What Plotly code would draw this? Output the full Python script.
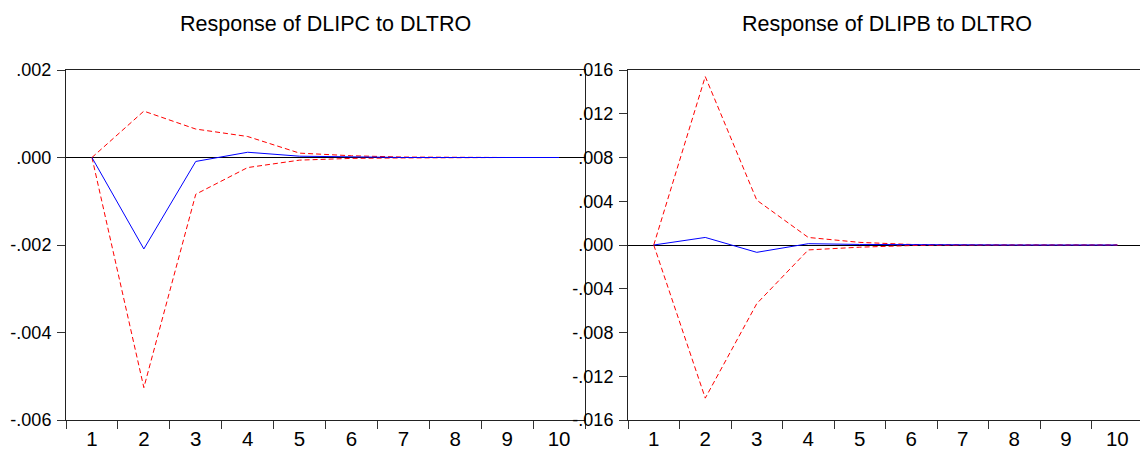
import plotly.graph_objects as go

periods = ["1", "2", "3", "4", "5", "6", "7", "8", "9", "10"]

dlipc_resp = [0.0, -0.00209, -0.00009, 0.00012, 0.00003, 0.00001, 0.0, 0.0, 0.0, 0.0]
dlipc_upper = [0.0, 0.00106, 0.00065, 0.00048, 0.00010, 0.00004, 0.00001, 0.0, 0.0, 0.0]
dlipc_lower = [0.0, -0.00526, -0.00084, -0.00023, -0.00006, -0.00002, -0.00001, 0.0, 0.0, 0.0]

dlipb_resp = [0.0, 0.00069, -0.00067, 0.00012, 0.00005, 0.00002, 0.0, 0.0, 0.0, 0.0]
dlipb_upper = [0.0, 0.0154, 0.0041, 0.00069, 0.00024, 0.00005, 0.00001, 0.0, 0.0, 0.0]
dlipb_lower = [0.0, -0.0140, -0.00536, -0.00045, -0.00020, -0.00005, -0.00001, 0.0, 0.0, 0.0]

left_ticks = [-0.006, -0.004, -0.002, 0.0, 0.002]
left_ticktext = ["-.006", "-.004", "-.002", ".000", ".002"]
right_ticks = [-0.016, -0.012, -0.008, -0.004, 0.0, 0.004, 0.008, 0.012, 0.016]
right_ticktext = ["-.016", "-.012", "-.008", "-.004", ".000", ".004", ".008", ".012", ".016"]

titles = ["Response of DLIPC to DLTRO", "Response of DLIPB to DLTRO"]

W, H = 1140, 450
FONT = "Liberation Sans, Arial, sans-serif"

fig = go.Figure()

def add_panel(resp, upper, lower, xa, ya):
    for vals in (upper, lower):
        fig.add_trace(go.Scatter(x=periods, y=vals, mode="lines", xaxis=xa, yaxis=ya,
                                 line=dict(color="#FF0000", width=1, dash="5px,3px"),
                                 showlegend=False, hoverinfo="skip"))
    fig.add_trace(go.Scatter(x=periods, y=resp, mode="lines", xaxis=xa, yaxis=ya,
                             line=dict(color="#0000FF", width=1),
                             showlegend=False, hoverinfo="skip"))

add_panel(dlipc_resp, dlipc_upper, dlipc_lower, "x", "y")
add_panel(dlipb_resp, dlipb_upper, dlipb_lower, "x2", "y2")

ydom = [1 - 420 / H, 1 - 70 / H]
xdom1 = [66 / W, 585 / W]
xdom2 = [628 / W, 1.0]

xcommon = dict(type="category", tickson="boundaries", ticks="outside", ticklen=8,
               tickcolor="#333", tickwidth=1, showline=True, linecolor="#222", linewidth=1,
               showgrid=False, zeroline=False, tickfont=dict(family=FONT, size=20.5, color="#000"),
               automargin=False, fixedrange=True)
ycommon = dict(ticks="outside", ticklen=8, tickcolor="#333", tickwidth=1, showline=True,
               linecolor="#222", linewidth=1, showgrid=False, zeroline=True,
               zerolinecolor="#000", zerolinewidth=1,
               tickfont=dict(family=FONT, size=18, color="#000"), automargin=False,
               ticklabelstandoff=2)

fig.update_layout(
    width=W, height=H,
    margin=dict(l=0, r=0, t=0, b=0),
    paper_bgcolor="white", plot_bgcolor="white",
    xaxis=dict(domain=xdom1, range=[-0.5, 9.5], mirror=True, anchor="y", **xcommon),
    yaxis=dict(domain=ydom, range=[-0.006, 0.002], tickvals=left_ticks, ticktext=left_ticktext,
               mirror=True, anchor="x", **ycommon),
    xaxis2=dict(domain=xdom2, range=[-0.5, 9.44], mirror=True, anchor="y2", **xcommon),
    yaxis2=dict(domain=ydom, range=[-0.016, 0.016], tickvals=right_ticks, ticktext=right_ticktext,
                mirror=False, anchor="x2", **ycommon),
)

for i, t in enumerate(titles):
    dom = xdom1 if i == 0 else [628 / W, 1145 / W]
    fig.add_annotation(text=t, x=(dom[0] + dom[1]) / 2, y=1 - 24 / H, xref="paper", yref="paper",
                       xanchor="center", yanchor="middle", showarrow=False,
                       font=dict(family=FONT, size=21.5, color="#000"))

fig.write_html("out.html")
